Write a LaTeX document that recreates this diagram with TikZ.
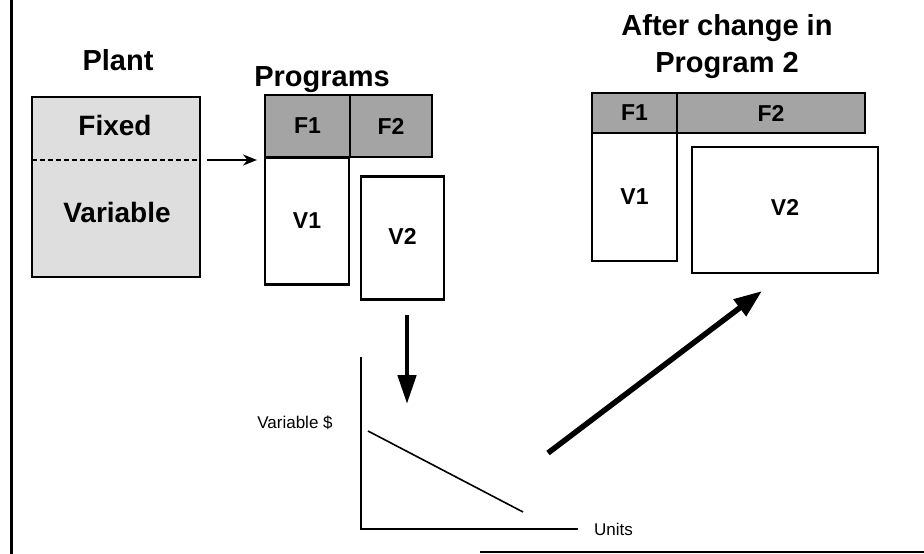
\documentclass[tikz,border=0pt]{standalone}
\usepackage{fontspec}
\setmainfont{Liberation Sans}
\usetikzlibrary{arrows.meta}
\definecolor{plantgray}{HTML}{DEDEDE}
\definecolor{fixgray}{HTML}{A4A4A4}
\begin{document}
\begin{tikzpicture}[x=1pt,y=-1pt,
  title/.style={font=\fontsize{29}{34}\selectfont\bfseries, inner sep=0pt, anchor=base},
  big/.style={font=\fontsize{28}{33}\selectfont\bfseries, inner sep=0pt, anchor=base},
  small/.style={font=\fontsize{17}{20}\selectfont, inner sep=0pt, anchor=base},
  vbox/.style={draw, line width=2.2pt, fill=white, inner sep=0pt, outer sep=0pt,
    font=\fontsize{23}{27}\selectfont\bfseries},
  fbox/.style={draw, line width=2.8pt, fill=fixgray, inner sep=0pt, outer sep=0pt,
    font=\fontsize{23}{27}\selectfont\bfseries},
  pbox/.style={draw, line width=2.2pt, fill=plantgray, inner sep=0pt, outer sep=0pt},
  thinarrow/.style={line width=2.2pt, -{Stealth[length=14pt,width=11pt]}},
  thickarrow/.style={line width=4.8pt, -{Triangle[length=29pt,width=18pt]}},
]
\useasboundingbox (0,0) rectangle (924,554);
% frame lines
\draw[line width=3pt] (11,0) -- (11,554);
\draw[line width=2.5pt] (480,552) -- (924,552);

% Plant
\node[title] (tplant) at (118,70) {Plant};
\node[pbox, minimum width=168pt, minimum height=180pt] (plant) at (116,187) {};
\coordinate (fixdiv) at (116,160);
\draw[line width=1.2pt, dash pattern=on 5pt off 3pt] (plant.west |- fixdiv) -- (plant.east |- fixdiv);
\node[big] (tfixed) at (115,135) {Fixed};
\node[big] (tvar) at (117,222) {Variable};

% Programs
\node[title] (tprog) at (322,86) {Programs};
\node[vbox, minimum width=84pt, minimum height=127pt] (pv1) at (307,221) {V1};
\node[vbox, minimum width=83pt, minimum height=123pt] (pv2) at (402.5,238) {\raisebox{3pt}{V2}};
\node[fbox, minimum width=85pt, minimum height=62pt] (pf1) at (307.5,126) {\raisebox{-3pt}{F1}};
\node[fbox, minimum width=82pt, minimum height=62pt] (pf2) at (391,126) {\raisebox{-3pt}{F2}};

\draw[thinarrow, shorten <=7pt, shorten >=8pt] (plant.east |- fixdiv) -- (pf1.south west |- fixdiv);

% graph
\coordinate (gorig) at (361,529);
\coordinate (gtop) at (361,357);
\coordinate (gright) at (578,529);
\coordinate (ls) at (368,431);
\coordinate (le) at (523,512);
\draw[line width=2.2pt] (gtop) -- (gorig) -- (gright);
\draw[line width=1.6pt] (ls) -- (le);
\node[small] (tvd) at (295,428) {Variable \$};
\node[small, anchor=base west] (tunits) at (594,535) {Units};

% down arrow
\coordinate (dtop) at (407,315);
\coordinate (dtip) at (407,404);
\draw[thickarrow] (dtop) -- (dtip);

% diagonal arrow
\coordinate (diagstart) at (548,453);
\coordinate (diagend) at (762,291);
\draw[line width=5.5pt, -{Triangle[length=28pt,width=20pt]}] (diagstart) -- (diagend);

% After change
\node[title] (tafter1) at (727,35) {After change in};
\node[title] (tafter2) at (727,72) {Program 2};
\node[vbox, minimum width=85pt, minimum height=128pt] (rv1) at (634.5,197) {\raisebox{1pt}{V1}};
\node[vbox, minimum width=186pt, minimum height=126pt] (rv2) at (785,210) {\raisebox{5pt}{V2}};
\node[fbox, minimum width=85pt, minimum height=40pt] (rf1) at (634.5,113) {\raisebox{-2pt}{F1}};
\node[fbox, minimum width=188pt, minimum height=40pt] (rf2) at (771,113) {\raisebox{-2pt}{F2}};
\end{tikzpicture}
\end{document}
